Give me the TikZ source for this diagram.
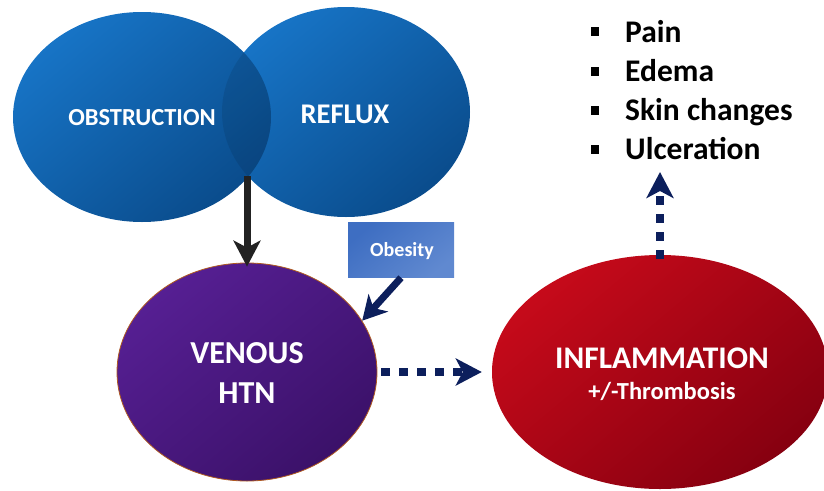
\documentclass[tikz,border=0pt]{standalone}
\usepackage{fontspec}
\setmainfont{Carlito}
\usetikzlibrary{shapes.geometric,arrows.meta}
\definecolor{blueA}{HTML}{1774C6}
\definecolor{blueB}{HTML}{0A4C8C}
\definecolor{purA}{HTML}{561F93}
\definecolor{purB}{HTML}{3B1169}
\definecolor{redA}{HTML}{C60A1A}
\definecolor{redB}{HTML}{860010}
\definecolor{boxA}{HTML}{3E6EC2}
\definecolor{boxB}{HTML}{6089D0}
\definecolor{navy}{HTML}{0C1F5C}
\definecolor{arrowblack}{HTML}{222222}
\tikzset{
  blob/.style={ellipse, inner sep=0pt},
  blobtext/.style={text=white, anchor=base, inner sep=0pt},
  solidarrow/.style={line width=7pt, -{Stealth[length=26pt,width=27pt,inset=7pt]}},
  dotarrow/.style={line width=8.5pt, navy, dash pattern=on 8.5pt off 9.5pt, -{Stealth[length=26pt,width=27pt,inset=7pt]}},
  bulletsq/.style={fill=black, minimum width=8.5pt, minimum height=9pt, inner sep=0pt},
  itemtext/.style={anchor=base west, font=\bfseries\fontsize{31.5}{36}\selectfont, inner sep=0pt},
}
\begin{document}
\begin{tikzpicture}[x=1pt,y=-1pt]
\useasboundingbox (0,0) rectangle (824,490);
% top ellipses
\node[blob, minimum width=248pt, minimum height=210pt, top color=blueA, bottom color=blueB, shading angle=40] (reflux) at (346,112) {};
\node[blob, minimum width=258pt, minimum height=210pt, top color=blueA, bottom color=blueB, shading angle=40] (obst) at (142,117) {};
\begin{scope}
  \clip (142,117) ellipse [x radius=129pt, y radius=105pt];
  \fill[black, opacity=0.09] (346,112) ellipse [x radius=124pt, y radius=105pt];
\end{scope}
\node[blobtext, font=\bfseries\fontsize{24.5}{28}\selectfont] (obsttxt) at (142,125) {OBSTRUCTION};
\node[blobtext, font=\bfseries\fontsize{28.5}{32}\selectfont] (reftxt) at (345,123) {REFLUX};
% venous
\node[blob, minimum width=260pt, minimum height=218pt, top color=purA, bottom color=purB, shading angle=40,
  draw={rgb,255:red,176;green,90;blue,32}, line width=0.8pt] (ven) at (247,372) {};
\node[blobtext, font=\bfseries\fontsize{32}{36}\selectfont] (ventxt1) at (247,363) {VENOUS};
\node[blobtext, font=\bfseries\fontsize{32}{36}\selectfont] (ventxt2) at (247,403) {HTN};
% inflammation
\node[blob, minimum width=336pt, minimum height=234pt, top color=redA, bottom color=redB, shading angle=40] (infl) at (660,372) {};
\node[blobtext, font=\bfseries\fontsize{31.5}{36}\selectfont] (infltxt) at (662,368) {INFLAMMATION};
\node[blobtext, font=\bfseries\fontsize{24.5}{28}\selectfont] (thromb) at (662,399) {+/-Thrombosis};
% obesity
\node[minimum width=106pt, minimum height=55pt, inner sep=0pt, top color=boxA, bottom color=boxB, shading angle=40] (obes) at (401,250) {};
\node[blobtext, font=\bfseries\fontsize{20}{22}\selectfont] (obestxt) at (402,256) {Obesity};
% symptom list
\node[bulletsq] (b1) at (595,31) {};
\node[bulletsq] (b2) at (595,71) {};
\node[bulletsq] (b3) at (595,110) {};
\node[bulletsq] (b4) at (595,149) {};
\node[itemtext] (i1) at (625,42) {Pain};
\node[itemtext] (i2) at (625,81.5) {Edema};
\node[itemtext] (i3) at (625,120.5) {Skin changes};
\node[itemtext] (i4) at (625,159.5) {Ulceration};
% connectors
\coordinate (meet) at (247,176);
\coordinate (sym) at (660,172);
\draw[solidarrow, arrowblack] (meet) -- ([yshift=-4pt]ven.north);
\draw[line width=7pt, navy, -{Stealth[length=24pt,width=26pt,inset=7pt]}] (obes.south) -- (ven.24);
\draw[dotarrow] ([xshift=4pt]ven.east) -- ([xshift=-10pt]infl.west);
\draw[dotarrow] ([yshift=-4pt]infl.north) -- (sym);
\end{tikzpicture}
\end{document}
